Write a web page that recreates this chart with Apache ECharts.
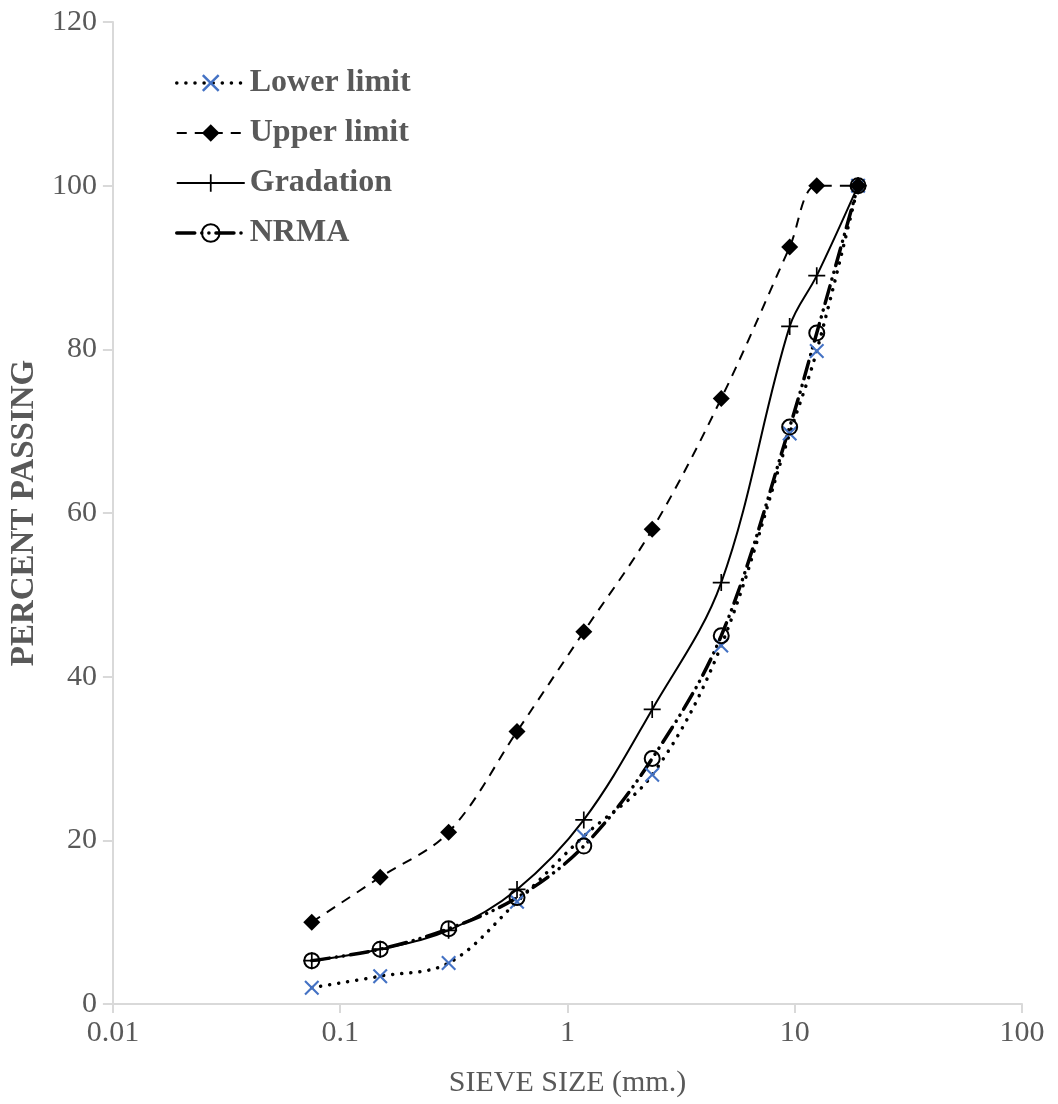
<!DOCTYPE html>
<html lang="en">
<head>
    <meta charset="UTF-8">
    <title>Sieve analysis</title>
    <script src="https://cdn.jsdelivr.net/npm/echarts@6/dist/echarts.min.js"></script>
    <style>
        html, body { margin: 0; padding: 0; background: #fff; }
    </style>
</head>
<body>
<div id="main" style="width: 1058px;height:1104px;"></div>

<script>
    // sieve sizes (mm) and percent passing for each curve
    var sieveSize = [0.075, 0.15, 0.3, 0.6, 1.18, 2.36, 4.75, 9.5, 12.5, 19];
    var lowerLimit = [2, 3.4, 5, 12.5, 20.5, 28, 43.8, 69.7, 79.8, 100];
    var upperLimit = [10, 15.5, 21, 33.3, 45.5, 58, 74, 92.5, 100, 100];
    var gradation = [5.3, 6.7, 9, 14, 22.5, 36, 51.5, 82.8, 89, 100];
    var nrma = [5.3, 6.7, 9.2, 13, 19.3, 30, 45, 70.5, 82, 100];
    var yTicks = [0, 20, 40, 60, 80, 100, 120];

    var textColor = '#595959';
    var axisColor = '#d9d9d9';
    var font = 'Liberation Serif, Times New Roman, serif';

    // marker shapes drawn as filled outlines
    var crossPath = 'path://M2,0 L10,8 L18,0 L20,2 L12,10 L20,18 L18,20 L10,12 L2,20 L0,18 L8,10 L0,2 Z';
    var plusPath = 'path://M9,0 L11,0 L11,9 L20,9 L20,11 L11,11 L11,20 L9,20 L9,11 L0,11 L0,9 L9,9 Z';

    function pairs(ys) {
        return sieveSize.map(function (x, i) { return [x, ys[i]]; });
    }

    var myChart = echarts.init(document.getElementById('main'));

    var option = {
        animation: false,
        grid: { left: 110, right: 36, top: 22, bottom: 100 },
        legend: {
            orient: 'vertical',
            left: 170,
            top: 62,
            itemWidth: 68,
            itemHeight: 22,
            itemGap: 18,
            lineStyle: { width: 'inherit' },
            data: ['Lower limit', 'Upper limit', 'Gradation', 'NRMA'],
            textStyle: { fontFamily: font, fontWeight: 'bold', fontSize: 32, color: textColor }
        },
        xAxis: {
            type: 'log',
            logBase: 10,
            min: 0.01,
            max: 100,
            name: 'SIEVE SIZE (mm.)',
            nameLocation: 'middle',
            nameGap: 64,
            nameTextStyle: { fontFamily: font, fontSize: 30, color: textColor },
            axisLine: { lineStyle: { color: axisColor, width: 2 } },
            axisTick: { length: 9, lineStyle: { color: axisColor, width: 2 } },
            minorTick: { show: false },
            splitLine: { show: false },
            axisLabel: {
                fontFamily: font, fontSize: 30, color: textColor, margin: 14,
                formatter: function (v) { return String(v); }
            }
        },
        yAxis: {
            type: 'value',
            min: yTicks[0],
            max: yTicks[yTicks.length - 1],
            interval: yTicks[1] - yTicks[0],
            name: 'PERCENT PASSING',
            nameLocation: 'middle',
            nameGap: 68,
            nameTextStyle: { fontFamily: font, fontSize: 33, fontWeight: 'bold', color: textColor },
            axisLine: { show: true, lineStyle: { color: axisColor, width: 2 } },
            axisTick: { show: true, length: 10, lineStyle: { color: axisColor, width: 2 } },
            splitLine: { show: false },
            axisLabel: { fontFamily: font, fontSize: 30, color: textColor, margin: 16 }
        },
        series: [
            {
                name: 'Lower limit',
                type: 'line',
                smooth: 0.35,
                data: pairs(lowerLimit),
                symbol: crossPath,
                symbolSize: 15,
                itemStyle: { color: '#4472c4', borderWidth: 0 },
                lineStyle: { color: '#000', width: 3.5, type: [0.1, 9], cap: 'round' }
            },
            {
                name: 'Upper limit',
                type: 'line',
                smooth: 0.35,
                data: pairs(upperLimit),
                symbol: 'diamond',
                symbolSize: 17,
                itemStyle: { color: '#000', borderWidth: 0 },
                lineStyle: { color: '#000', width: 2, type: [10, 8] }
            },
            {
                name: 'Gradation',
                type: 'line',
                smooth: 0.35,
                data: pairs(gradation),
                symbol: plusPath,
                symbolSize: 17,
                itemStyle: { color: '#000', borderWidth: 0 },
                lineStyle: { color: '#000', width: 2, type: 'solid' }
            },
            {
                name: 'NRMA',
                type: 'line',
                smooth: 0.35,
                data: pairs(nrma),
                symbol: 'circle',
                symbolSize: 15,
                itemStyle: { color: 'rgba(255,255,255,0)', borderColor: '#000', borderWidth: 2 },
                lineStyle: { color: '#000', width: 3.5, type: [18, 7, 0.1, 7, 0.1, 7], cap: 'round' }
            }
        ]
    };

    myChart.setOption(option);
</script>

</body>
</html>
